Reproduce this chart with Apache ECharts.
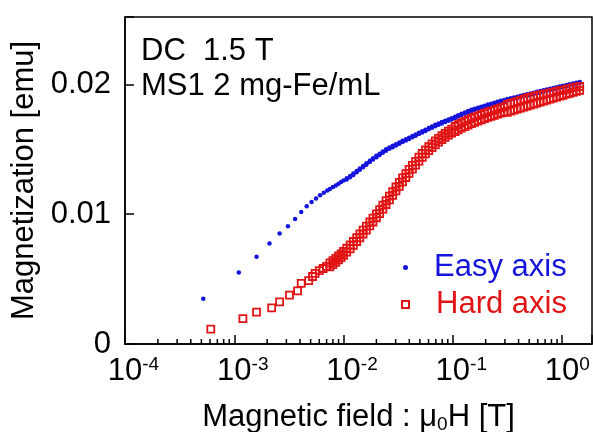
<!DOCTYPE html>
<html><head><meta charset="utf-8">
<script src="https://cdn.jsdelivr.net/npm/echarts@6/dist/echarts.min.js"></script>
<style>html,body{margin:0;padding:0;background:#fff}#c{width:593px;height:432px}</style>
</head><body><div id="c"></div>
<script>
// ---- data ----
const easyLowH = [5.2e-4, 1.1e-3, 1.6e-3, 2.1e-3, 2.6e-3, 3.1e-3, 3.6e-3, 4.1e-3, 4.6e-3, 5.1e-3, 5.6e-3, 6.1e-3, 6.6e-3, 7.1e-3];
const easyLowM = [0.00348, 0.00551, 0.00672, 0.00775, 0.00852, 0.00908, 0.00964, 0.01018, 0.01062, 0.01095, 0.01122, 0.01146, 0.01165, 0.01182];
const hardLowH = [6.1e-4, 1.2e-3, 1.6e-3, 2.2e-3, 2.6e-3, 3.2e-3, 3.8e-3, 4.1e-3, 4.8e-3, 5.2e-3, 5.5e-3, 6.0e-3, 6.5e-3, 7.0e-3];
const hardLowM = [0.00115, 0.00195, 0.00246, 0.00278, 0.00324, 0.00376, 0.00409, 0.00467, 0.00488, 0.0052, 0.00544, 0.00565, 0.00582, 0.00598];

const denseH = [0.0075,0.008,0.0085,0.009,0.0095,0.010,0.0107,0.0115,0.0123,0.0132,0.0141,0.0151,0.0162,0.0174,0.0186,0.020,0.0214,0.0229,0.0245,0.0263,0.0282,0.0302,0.0324,0.0347,0.0372,0.0398,0.0427,0.0457,0.049,0.0525,0.0562,0.0603,0.0646,0.0692,0.0741,0.0794,0.0851,0.0912,0.0977,0.105,0.112,0.12,0.129,0.138,0.148,0.158,0.17,0.182,0.195,0.209,0.224,0.24,0.257,0.275,0.295,0.316,0.339,0.363,0.389,0.417,0.447,0.479,0.513,0.55,0.589,0.631,0.676,0.724,0.776,0.832,0.891,0.955,1.02,1.1,1.17,1.26,1.35,1.45];

// easy axis: upper edge of the blue band
const easyDenseM = [0.01195,0.01209,0.01222,0.01235,0.01248,0.0126,0.01277,0.01295,0.01313,0.01333,
0.01352,0.01372,0.01392,0.01413,0.01432,0.0145,0.01467,0.01484,0.015,0.01514,
0.01527,0.0154,0.01553,0.01566,0.01578,0.0159,0.01603,0.01615,0.01628,0.0164,
0.01652,0.01665,0.01677,0.01689,0.017,0.0171,0.0172,0.0173,0.0174,0.01752,
0.01763,0.01774,0.01785,0.01796,0.01805,0.01813,0.01821,0.01829,0.01837,0.01845,
0.01852,0.01859,0.01867,0.01875,0.01881,0.01888,0.01894,0.019,0.01906,0.01913,
0.01919,0.01925,0.01931,0.01937,0.01943,0.01949,0.01955,0.01961,0.01967,0.01973,
0.01979,0.01985,0.0199,0.01996,0.02002,0.02008,0.02014,0.0202];
// easy axis: lower edge of the blue band (fields from 0.0107 T on)
const easyBandLowM = [0.01267,0.01285,0.01303,0.01323,0.01342,0.01362,0.01382,0.01403,0.01422,0.0144,0.01457,0.01474,0.0149,0.01504,
0.01517,0.0153,0.01543,0.01556,0.01568,0.0158,0.01593,0.01605,0.01618,0.0163,
0.01642,0.01655,0.01667,0.01679,0.0169,0.017,0.0171,0.0172,0.0173,0.01742,
0.01753,0.01764,0.01775,0.01786,0.01795,0.01803,0.01811,0.01819,0.01827,0.01835,
0.01842,0.01849,0.01857,0.01865,0.01871,0.01878,0.01884,0.0189,0.01896,0.01903,
0.01909,0.01915,0.01921,0.01927,0.01933,0.01939,0.01945,0.01951,0.01957,0.01963,
0.01969,0.01975,0.0198,0.01986,0.01992,0.01998,0.02004,0.0201];

// hard axis: upper edge of the red band
const hardBandTopM = [0.00625,0.00642,0.0066,0.00678,0.00695,0.00713,0.00738,0.00763,0.0079,0.0082,
0.00848,0.00877,0.00908,0.0094,0.0097,0.01003,0.01035,0.0107,0.01105,0.0114,0.01175,
0.0121,0.01245,0.0128,0.01313,0.01345,0.01377,0.01408,0.0144,0.01468,0.01495,0.0152,0.01543,0.01565,0.01585,0.01605,0.01623,0.0164,0.01656,
0.01676,0.0169,0.01703,0.01715,0.01727,0.01738,0.01748,0.01758,0.01768,0.01777,0.01786,0.01795,0.01803,0.01811,0.0182,0.01828,
0.01846,0.01854,0.01862,0.0187,0.01878,0.01886,0.01894,0.01902,0.01909,0.01913,0.01919,0.01924,0.0193,0.01935,0.01941,0.01946,0.01952,0.01957,0.01963,0.01968,0.01974,0.01979,0.01985];
// hard axis: lower edge of the red band
const hardBandBottomM = [0.00595,0.00612,0.0063,0.00648,0.00665,0.00683,0.00708,0.00733,0.0076,0.0079,
0.00818,0.00847,0.00878,0.0091,0.0094,0.00973,0.01005,0.0104,0.01075,0.0111,0.01145,
0.0118,0.01215,0.0125,0.01283,0.01315,0.01347,0.01378,0.0141,0.01438,0.01465,0.0149,0.01513,0.01535,0.01555,0.01575,0.01593,0.0161,0.01626,
0.01636,0.0165,0.01663,0.01675,0.01687,0.01698,0.01708,0.01718,0.01728,0.01737,0.01746,0.01755,0.01763,0.01771,0.0178,0.01788,
0.01786,0.01794,0.01802,0.0181,0.01818,0.01826,0.01834,0.01842,0.01849,0.01857,0.01865,0.01872,0.0188,0.01887,0.01895,0.01902,0.0191,0.01917,0.01925,0.01932,0.0194,0.01947,0.01955];

const majorDecades = [1e-4, 1e-3, 1e-2, 1e-1];
const minorMantissas = [2, 3, 4, 5, 6, 7, 8, 9];
const yTickLabels = ['0', '0.01', '0.02'];

// ---- build ----
const BLUE = '#1414dc';
const RED = '#e01414';
const FONT = '"Liberation Sans", Arial, Helvetica, sans-serif';
const FS = 31;

const zip = (xs, ys) => ys.map((y, i) => [xs[i], y]);
const easyData = zip(easyLowH, easyLowM)
  .concat(zip(denseH, easyDenseM))
  .concat(zip(denseH.slice(denseH.length - easyBandLowM.length), easyBandLowM));
const hardData = zip(hardLowH, hardLowM)
  .concat(zip(denseH, hardBandTopM))
  .concat(zip(denseH.slice(denseH.length - hardBandBottomM.length), hardBandBottomM));

const minorTicks = [];
majorDecades.forEach(d => minorMantissas.forEach(m => minorTicks.push([d * m, 0])));

const chart = echarts.init(document.getElementById('c'), null, {renderer: 'canvas'});
chart.setOption({
  animation: false,
  backgroundColor: '#fff',
  textStyle: {fontFamily: FONT},
  title: {
    text: 'DC  1.5 T\nMS1 2 mg-Fe/mL',
    left: 141, top: 34, padding: 0,
    textStyle: {fontSize: FS, fontWeight: 'normal', color: '#000', lineHeight: 35, fontFamily: FONT}
  },
  grid: {left: 125, right: 1, top: 17, bottom: 88, containLabel: false, outerBoundsMode: 'none',
         show: true, borderColor: '#000', borderWidth: 1.5, backgroundColor: 'transparent'},
  legend: [
    {data: ['Easy axis'], left: 403, top: 252, orient: 'vertical', padding: 0,
     itemWidth: 5, itemHeight: 5, selectedMode: false,
     textStyle: {color: BLUE, fontSize: FS, fontFamily: FONT, padding: [0, 0, 0, 21]}},
    {data: ['Hard axis'], left: 401, top: 289, orient: 'vertical', padding: 0,
     itemWidth: 7, itemHeight: 7, selectedMode: false,
     textStyle: {color: RED, fontSize: FS, fontFamily: FONT, padding: [0, 0, 0, 22]}}
  ],
  xAxis: {
    type: 'log', logBase: 10, min: 1e-4, max: 1.88,
    axisLine: {lineStyle: {color: '#000', width: 1.5}},
    axisTick: {inside: true, length: 9, lineStyle: {color: '#000', width: 1.5}},
    minorTick: {show: false},
    splitLine: {show: false},
    axisLabel: {
      margin: 11, color: '#000',
      formatter: function (v) {
        const e = Math.round(Math.log10(v));
        if (Math.abs(v / Math.pow(10, e) - 1) > 1e-6) return '';
        return (e < 0 ? '{p2|}' : '{p1|}') + '{b|10}{s|' + String(e) + '}';
      },
      rich: {
        b: {fontSize: FS, lineHeight: 32, padding: [6, 0, 0, 0], verticalAlign: 'bottom', color: '#000', fontFamily: FONT},
        s: {fontSize: 19, lineHeight: 19, verticalAlign: 'top', color: '#000', fontFamily: FONT},
        p1: {width: 10.5, fontSize: 19, lineHeight: 19},
        p2: {width: 17, fontSize: 19, lineHeight: 19}
      }
    },
    name: '{a|Magnetic field : μ}{sub|0}{a|H [T]}',
    nameLocation: 'middle', nameGap: 51,
    nameTextStyle: {
      color: '#000',
      rich: {
        a: {fontSize: FS, lineHeight: 32, verticalAlign: 'top', color: '#000', fontFamily: FONT},
        sub: {fontSize: 19, lineHeight: 19, padding: [23, 0, 0, 0], verticalAlign: 'bottom', color: '#000', fontFamily: FONT}
      }
    }
  },
  yAxis: {
    type: 'value', min: 0, max: 0.0252, interval: 0.01,
    axisLine: {lineStyle: {color: '#000', width: 1.5}},
    axisTick: {inside: true, length: 9, lineStyle: {color: '#000', width: 1.5}},
    splitLine: {show: false},
    axisLabel: {
      margin: 14, color: '#000', fontSize: FS, fontFamily: FONT,
      formatter: function (v) {
        const i = Math.round(v / 0.01);
        if (Math.abs(v - i * 0.01) > 1e-9 || i >= yTickLabels.length) return '';
        return yTickLabels[i];
      }
    },
    name: 'Magnetization [emu]',
    nameLocation: 'middle', nameGap: 84,
    nameTextStyle: {color: '#000', fontSize: FS, fontFamily: FONT}
  },
  series: [
    {
      type: 'custom', name: 'minor', silent: true, clip: false,
      data: minorTicks,
      renderItem: function (params, api) {
        const p = api.coord([api.value(0), 0]);
        return {type: 'line', shape: {x1: p[0], y1: p[1], x2: p[0], y2: p[1] - 5},
                style: {stroke: '#000', lineWidth: 1.5}};
      }
    },
    {
      type: 'scatter', name: 'Easy axis', data: easyData,
      symbol: 'circle', symbolSize: 4.5,
      itemStyle: {color: BLUE, opacity: 1}
    },
    {
      type: 'scatter', name: 'Hard axis', data: hardData,
      symbol: 'rect', symbolSize: 7,
      itemStyle: {color: 'rgba(255,255,255,0)', borderColor: RED, borderWidth: 1.8, opacity: 1}
    }
  ]
});
</script></body></html>
